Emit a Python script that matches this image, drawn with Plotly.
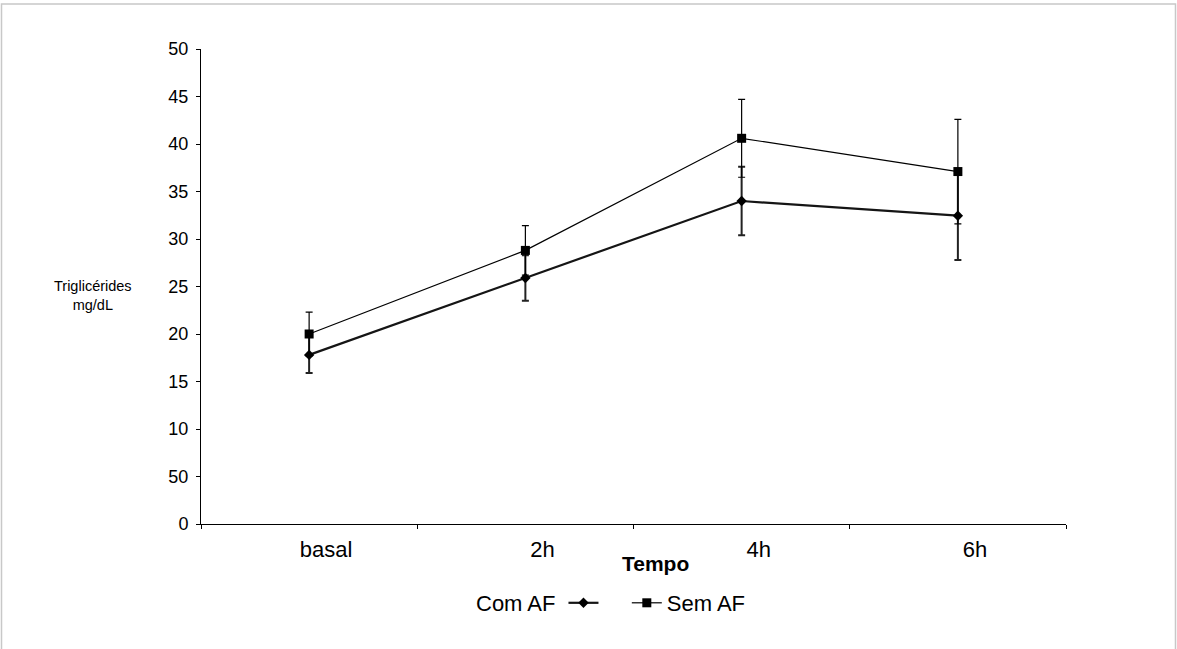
import plotly.graph_objects as go

# ---- data ----
categories = ["basal", "2h", "4h", "6h"]
com_af = [17.8, 25.9, 34.0, 32.45]
com_af_err = [1.9, 2.4, 3.6, 4.65]
sem_af = [20.0, 28.8, 40.6, 37.1]
sem_af_err = [2.3, 2.6, 4.1, 5.5]
y_tickvals = [0, 5, 10, 15, 20, 25, 30, 35, 40, 45, 50]
y_ticktext = ["0", "50", "10", "15", "20", "25", "30", "35", "40", "45", "50"]

FONT = "Arial, Liberation Sans, sans-serif"

# plot area in pixels
W, H = 1177, 649
L, R, T, B = 201, 1066, 49, 524

def px_x(p):
    return (p - L) / (R - L)

def px_y(p):
    return (B - p) / (B - T)

fig = go.Figure()

fig.add_trace(go.Scatter(
    x=categories, y=com_af, name="\u00a0\u00a0\u00a0", mode="lines+markers",
    line=dict(color="#151515", width=2.2),
    marker=dict(symbol="diamond", size=8, color="#000000"),
    error_y=dict(type="data", array=com_af_err, visible=True,
                 color="#222222", thickness=2, width=3.5),
))
fig.add_trace(go.Scatter(
    x=categories, y=sem_af, name="Sem AF", mode="lines+markers",
    line=dict(color="#000000", width=1.2),
    marker=dict(symbol="square", size=9, color="#000000"),
    error_y=dict(type="data", array=sem_af_err, visible=True,
                 color="#000000", thickness=1.2, width=3.5),
))

fig.update_layout(
    width=W, height=H,
    margin=dict(l=L, r=W - R, t=T, b=H - B, pad=0),
    paper_bgcolor="white", plot_bgcolor="white",
    font=dict(family=FONT, color="#000000"),
    showlegend=True,
    legend=dict(
        orientation="h", x=px_x(474), y=px_y(603), xanchor="left", yanchor="middle",
        font=dict(size=22, family=FONT, color="#000"),
        title=dict(text="Com AF", side="left", font=dict(size=22, family=FONT, color="#000")),
        bgcolor="rgba(0,0,0,0)", traceorder="normal",
    ),
)

fig.update_xaxes(
    type="category", categoryorder="array", categoryarray=categories,
    range=[-0.5, 3.5], showline=True, linecolor="#000", linewidth=1,
    ticks="outside", tickson="boundaries", ticklen=4, tickcolor="#000",
    tickfont=dict(size=22, family=FONT, color="#000"),
    ticklabelshift=17, ticklabelstandoff=6,
    showgrid=False, zeroline=False,
)
fig.update_yaxes(
    range=[0, 50], tickvals=y_tickvals, ticktext=y_ticktext,
    showline=True, linecolor="#000", linewidth=1,
    ticks="outside", ticklen=4, tickcolor="#000",
    tickfont=dict(size=18, family=FONT, color="#000"),
    ticklabelstandoff=4,
    showgrid=False, zeroline=False,
)

# axis titles as annotations
fig.add_annotation(
    text="Triglicérides<br>mg/dL", xref="paper", yref="paper",
    x=px_x(93), y=px_y(295), xanchor="center", yanchor="middle",
    showarrow=False, align="center",
    font=dict(size=14.5, family=FONT, color="#000"),
)
fig.add_annotation(
    text="<b>Tempo</b>", xref="paper", yref="paper",
    x=px_x(655), y=px_y(563), xanchor="center", yanchor="middle",
    showarrow=False,
    font=dict(size=21, family=FONT, color="#000"),
)

# outer frame
fig.add_shape(
    type="rect", xref="paper", yref="paper",
    x0=px_x(1.5), x1=px_x(1175.5), y0=px_y(700), y1=px_y(4),
    line=dict(color="#c8c8c8", width=1.5), fillcolor="rgba(0,0,0,0)",
)

fig.write_html("out.html", config={"displayModeBar": False},
               post_script="document.body.style.margin='0';")
